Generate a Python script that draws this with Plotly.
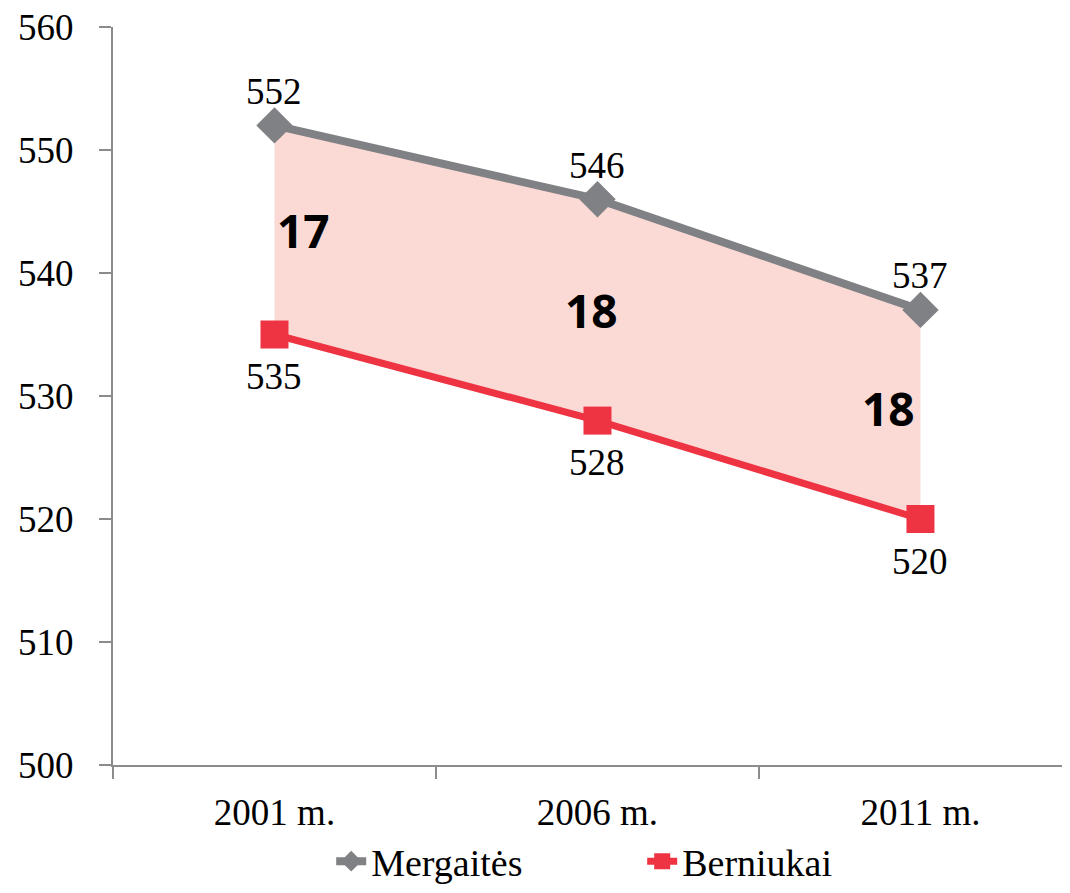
import plotly.graph_objects as go

years = ["2001 m.", "2006 m.", "2011 m."]
girls = [552, 546, 537]
boys = [535, 528, 520]
gaps = [17, 18, 18]
gap_x = [0.09, 0.98, 1.9]
gap_y = [543.5, 537, 529]

GRAY = "#808184"
RED = "#ee3342"
FILL = "#fbd9d5"
AXIS = "#8c8c8c"
SERIF = "Liberation Serif"

fig = go.Figure()

# fill between the two series (drawn first so lines sit on top)
fig.add_trace(go.Scatter(
    x=years, y=boys, mode="lines", line=dict(width=0, color=FILL),
    showlegend=False, hoverinfo="skip",
))
fig.add_trace(go.Scatter(
    x=years, y=girls, mode="lines", line=dict(width=0, color=FILL),
    fill="tonexty", fillcolor=FILL, showlegend=False, hoverinfo="skip",
))

fig.add_trace(go.Scatter(
    x=years, y=girls, name="Mergaitės",
    mode="lines+markers",
    line=dict(color=GRAY, width=8),
    marker=dict(symbol="diamond", size=28, color=GRAY),
))
fig.add_trace(go.Scatter(
    x=years, y=boys, name="Berniukai",
    mode="lines+markers",
    line=dict(color=RED, width=7),
    marker=dict(symbol="square", size=28, color=RED),
))

# value labels: above the girls' line, below the boys' line
for yr, v in zip(years, girls):
    fig.add_annotation(x=yr, y=v, text=str(v), showarrow=False, yshift=34,
                       font=dict(family=SERIF, size=37, color="black"))
for yr, v in zip(years, boys):
    fig.add_annotation(x=yr, y=v, text=str(v), showarrow=False, yshift=-42,
                       font=dict(family=SERIF, size=37, color="black"))

for gx, gy, g in zip(gap_x, gap_y, gaps):
    fig.add_annotation(
        x=gx, y=gy, text="<b>%d</b>" % g, showarrow=False,
        font=dict(family="Noto Sans", size=46, color="black"),
    )

# page body has an 8px margin, so the figure is sized to fill the rest
fig.update_layout(
    width=1062, height=885,
    margin=dict(l=105, r=0, t=19, b=128),
    plot_bgcolor="white", paper_bgcolor="white",
    font=dict(family=SERIF, size=37, color="black"),
    showlegend=True,
    legend=dict(
        orientation="h", x=0.228, xanchor="left",
        yref="container", y=-0.012, yanchor="bottom",
        traceorder="normal", entrywidth=266, entrywidthmode="pixels",
        bgcolor="rgba(0,0,0,0)",
        font=dict(family=SERIF, size=38, color="black"),
    ),
    xaxis=dict(
        range=[-0.5, 2.463], showgrid=False, zeroline=False, automargin=False,
        showline=True, linecolor=AXIS, linewidth=2,
        ticks="outside", ticklen=12, tickcolor=AXIS, tickwidth=2,
        tickson="boundaries", ticklabelstandoff=14, ticklabeloverflow="allow",
    ),
    yaxis=dict(
        range=[500, 560], dtick=10, showgrid=False, zeroline=False, automargin=False,
        showline=True, linecolor=AXIS, linewidth=2,
        ticks="outside", ticklen=12, tickcolor=AXIS, tickwidth=2,
        ticklabelstandoff=18, ticklabeloverflow="allow",
    ),
)

fig.write_html("out.html")
